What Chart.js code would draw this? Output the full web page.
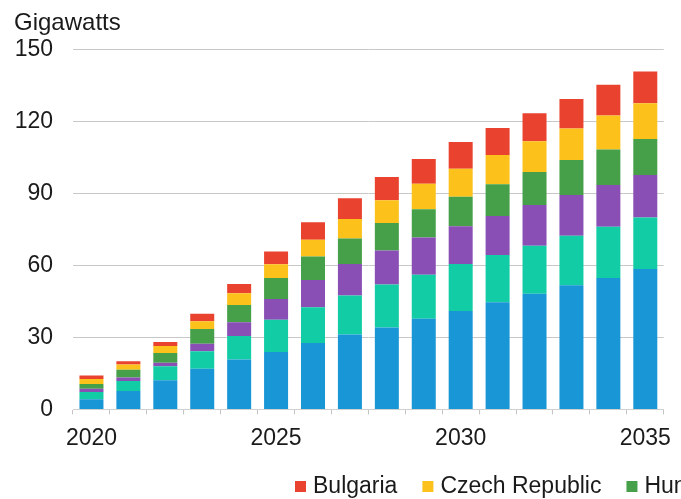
<!DOCTYPE html>
<html>
<head>
<meta charset="utf-8">
<script src="https://cdn.jsdelivr.net/npm/chart.js@4"></script>
<style>
  html, body { margin: 0; padding: 0; background: #fff; overflow: hidden; }
</style>
</head>
<body>
<canvas id="chart" width="681" height="499"></canvas>
<script>
const years = ['2020','2021','2022','2023','2024','2025','2026','2027','2028','2029','2030','2031','2032','2033','2034','2035'];

// stacked bottom -> top
const poland   = [4.2, 7.7, 12.2, 17.0, 20.8, 23.9, 27.7, 31.2, 34.2, 37.8, 41.0, 44.7, 48.2, 51.8, 54.8, 58.6];
const romania  = [3.1, 4.1, 5.8, 7.3, 9.8, 13.5, 14.9, 16.3, 17.9, 18.4, 19.7, 19.7, 20.1, 20.6, 21.4, 21.4];
const slovakia = [1.3, 1.5, 1.5, 3.1, 5.8, 8.6, 11.4, 13.2, 14.2, 15.5, 15.7, 16.3, 17.0, 17.0, 17.4, 17.8];
const hungary  = [2.0, 3.2, 4.0, 6.1, 7.2, 8.8, 9.8, 10.6, 11.5, 11.8, 12.3, 13.2, 13.7, 14.6, 14.8, 15.0];
const czech    = [2.1, 2.2, 2.9, 3.3, 4.9, 5.7, 7.0, 8.1, 9.4, 10.6, 11.7, 12.2, 12.9, 13.2, 14.2, 14.9];
const bulgaria = [1.4, 1.4, 1.7, 3.1, 3.8, 5.4, 7.3, 8.7, 9.7, 10.4, 11.1, 11.3, 11.6, 12.3, 12.8, 13.3];

const names  = ['Poland', 'Romania', 'Slovakia', 'Hungary', 'Czech Republic', 'Bulgaria'];
const series = [poland, romania, slovakia, hungary, czech, bulgaria];
const colors = ['#1896d6', '#12cca6', '#894fb4', '#45a049', '#fcc21b', '#e9432f'];

const FONT = '"Liberation Sans", Arial, sans-serif';
const TEXT = '#1a1a1a';

// legend at the bottom, runs off the right edge like the original
const bottomLegend = {
  id: 'bottomLegend',
  afterDraw(chart) {
    const ctx = chart.ctx;
    ctx.save();
    ctx.font = '23px ' + FONT;
    ctx.textBaseline = 'middle';
    let x = 295;
    const y = 487;
    for (let i = names.length - 1; i >= 0; i--) {
      ctx.fillStyle = colors[i];
      ctx.fillRect(x, y - 6, 11, 11);
      x += 18;
      ctx.fillStyle = TEXT;
      ctx.fillText(names[i], x, y);
      x += ctx.measureText(names[i]).width + 25;
    }
    ctx.restore();
  }
};

const datasets = series.map((d, i) => ({
  label: names[i],
  data: d,
  backgroundColor: colors[i],
  borderWidth: 0,
  barPercentage: 0.65,
  categoryPercentage: 1.0
}));

new Chart(document.getElementById('chart'), {
  type: 'bar',
  data: { labels: years, datasets },
  plugins: [bottomLegend],
  options: {
    responsive: false,
    animation: false,
    layout: { padding: { left: 14, right: 4, top: 0, bottom: 37 } },
    plugins: {
      legend: { display: false },
      tooltip: { enabled: false },
      title: {
        display: true,
        text: 'Gigawatts',
        align: 'start',
        color: TEXT,
        font: { family: FONT, size: 24, weight: 'normal' },
        padding: { top: 9, bottom: 12 }
      }
    },
    scales: {
      x: {
        stacked: true,
        grid: { drawOnChartArea: false, drawTicks: true, tickLength: 5, color: '#c4c4c4' },
        border: { display: true, color: '#d0d0d0' },
        ticks: {
          autoSkip: false,
          maxRotation: 0,
          padding: 10,
          color: TEXT,
          font: { family: FONT, size: 23 },
          callback: (v, i) => (Number(years[i]) % 5 === 0 ? years[i] : '')
        }
      },
      y: {
        stacked: true,
        min: 0,
        max: 150,
        afterFit: s => { s.width = 59; },
        grid: { color: '#c8c8c8', drawTicks: false },
        border: { display: false },
        ticks: {
          stepSize: 30,
          padding: 20,
          color: TEXT,
          font: { family: FONT, size: 23 }
        }
      }
    }
  }
});
</script>
</body>
</html>
